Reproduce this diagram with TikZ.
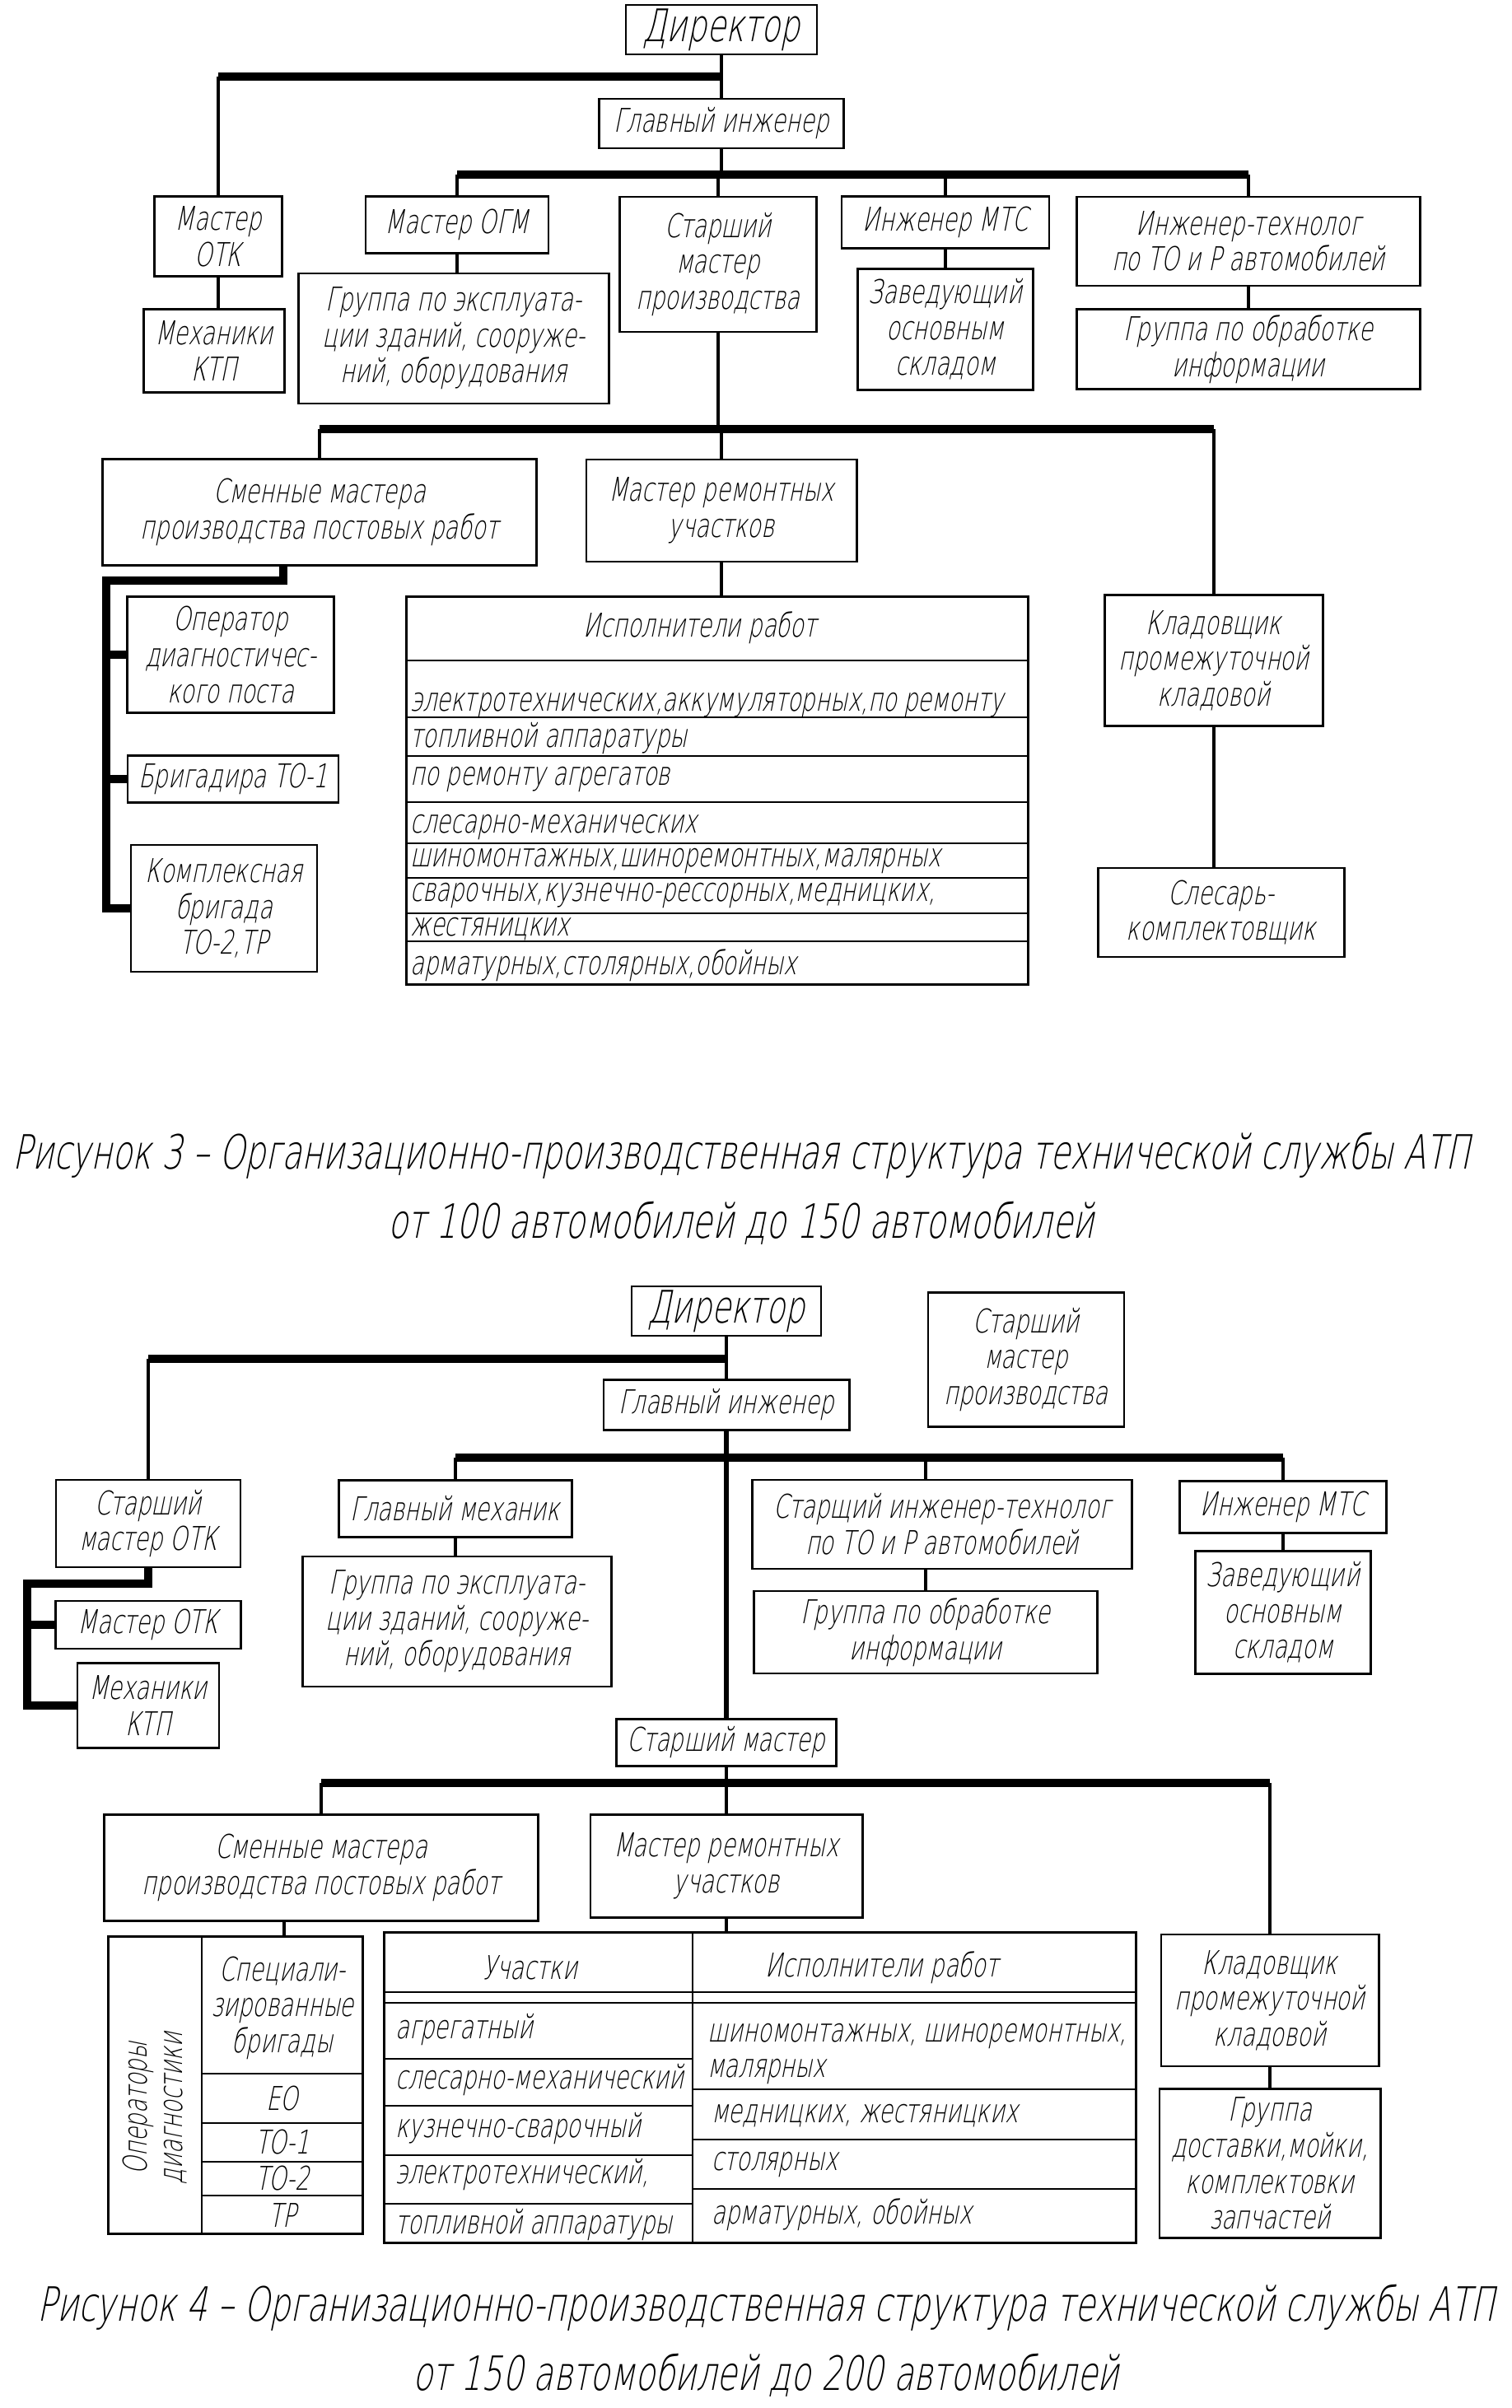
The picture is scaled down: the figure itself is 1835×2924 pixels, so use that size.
\documentclass[tikz,border=0pt]{standalone}
\usepackage{fontspec}
\newfontfamily\gost{DejaVu Sans ExtraLight}[FakeStretch=0.69,FakeSlant=0.2]
\newcommand\boxfont{\gost\fontsize{11.3}{12.4}\selectfont}
\newcommand\dirfont{\gost\fontsize{15.5}{17}\selectfont}
\newcommand\capfont{\gost\fontsize{16.3}{24}\selectfont}
\tikzset{
  box/.style={draw, line width=0.8pt, align=center, inner sep=1pt, font=\boxfont},
  cell/.style={inner sep=1pt, align=center, font=\boxfont},
  link/.style={line width=1pt},
  bus/.style={line width=2.6pt},
  grid/.style={line width=0.8pt},
}
\begin{document}
\begin{tikzpicture}[x=0.01cm, y=-0.01cm]
  \useasboundingbox (0,0) rectangle (1835,2924);
  % ==================== Рисунок 3 ====================
  \node[box, font=\dirfont, minimum width=23.2mm, minimum height=6mm] (dirA) at (876,36) {Директор};
  \node[box, minimum width=29.7mm, minimum height=6mm] (glA) at (876,150) {Главный инженер};
  \node[box, minimum width=15.5mm, minimum height=9.7mm] (otkA) at (265,287) {Мастер\\ОТК};
  \node[box, minimum width=17.1mm, minimum height=10.1mm] (ktpA) at (260,426) {Механики\\КТП};
  \node[box, minimum width=22.2mm, minimum height=6.9mm] (ogmA) at (555,273) {Мастер ОГМ};
  \node[box, minimum width=37.7mm, minimum height=15.8mm] (grexA) at (551,411) {Группа по эксплуата-\\ции зданий, сооруже-\\ний, оборудования};
  \node[box, minimum width=23.9mm, minimum height=16.4mm] (smpA) at (872,321) {Старший\\мастер\\производства};
  \node[box, minimum width=25.2mm, minimum height=6.3mm] (mtsA) at (1148,270) {Инженер МТС};
  \node[box, minimum width=21.3mm, minimum height=14.7mm] (zavA) at (1148,400) {Заведующий\\основным\\складом};
  \node[box, minimum width=41.7mm, minimum height=10.8mm] (itA) at (1516,293) {Инженер-технолог\\по ТО и Р автомобилей};
  \node[box, minimum width=41.7mm, minimum height=9.7mm] (goiA) at (1516,424) {Группа по обработке\\информации};
  % нижний ярус
  \node[box, minimum width=52.6mm, minimum height=12.9mm] (smA) at (388,622) {Сменные мастера\\производства постовых работ};
  \node[box, minimum width=32.8mm, minimum height=12.4mm] (mrA) at (876,620) {Мастер ремонтных\\участков};
  \node[box, minimum width=26.5mm, minimum height=15.9mm] (klA) at (1474,802) {Кладовщик\\промежуточной\\кладовой};
  \node[box, minimum width=29.9mm, minimum height=10.8mm] (slA) at (1483,1108) {Слесарь-\\комплектовщик};
  \node[box, minimum width=25.1mm, minimum height=14.1mm] (opA) at (280,795) {Оператор\\диагностичес-\\кого поста};
  \node[box, minimum width=25.6mm, minimum height=5.7mm] (brA) at (283,946) {Бригадира ТО-1};
  \node[box, minimum width=22.6mm, minimum height=15.4mm] (kbA) at (272,1103) {Комплексная\\бригада\\ТО-2,ТР};
  % таблица исполнителей
  \node[draw, line width=0.8pt, minimum width=75.5mm, minimum height=47mm] (ispA) at (871,960) {};
  \node[cell] (ispA-h) at (850,762) {Исполнители работ};
  \draw[grid] (494,802) -- (1249,802);
  \draw[grid] (494,871) -- (1249,871);
  \draw[grid] (494,918) -- (1249,918);
  \draw[grid] (494,974) -- (1249,974);
  \draw[grid] (494,1024) -- (1249,1024);
  \draw[grid] (494,1066) -- (1249,1066);
  \draw[grid] (494,1109) -- (1249,1109);
  \draw[grid] (494,1143) -- (1249,1143);
  \node[cell, anchor=west] (ispA-1) at (494,856) {электротехнических,аккумуляторных,по ремонту};
  \node[cell, anchor=west] (ispA-2) at (494,897) {топливной аппаратуры};
  \node[cell, anchor=west] (ispA-3) at (494,946) {по ремонту агрегатов};
  \node[cell, anchor=west] (ispA-4) at (494,1004) {слесарно-механических};
  \node[cell, anchor=west] (ispA-5) at (494,1045) {шиномонтажных,шиноремонтных,малярных};
  \node[cell, anchor=west] (ispA-6) at (494,1087) {сварочных,кузнечно-рессорных,медницких,};
  \node[cell, anchor=west] (ispA-7) at (494,1128) {жестяницких};
  \node[cell, anchor=west] (ispA-8) at (494,1172) {арматурных,столярных,обойных};
  % связи
  \coordinate (busA1) at (0,93);
  \coordinate (busA2) at (0,212);
  \coordinate (busA3) at (0,521);
  \coordinate (trA) at (129,705);
  \draw[link] (dirA.south) -- (glA.north);
  \draw[bus] (otkA.north |- busA1) -- (dirA.south |- busA1);
  \draw[link] (otkA.north |- busA1) -- (otkA.north);
  \draw[link] (otkA.south) -- (otkA.south |- ktpA.north);
  \draw[link] (glA.south) -- (glA.south |- busA2);
  \draw[bus] (ogmA.north |- busA2) -- (itA.north |- busA2);
  \draw[link] (ogmA.north |- busA2) -- (ogmA.north);
  \draw[link] (smpA.north |- busA2) -- (smpA.north);
  \draw[link] (mtsA.north |- busA2) -- (mtsA.north);
  \draw[link] (itA.north |- busA2) -- (itA.north);
  \draw[link] (ogmA.south) -- (ogmA.south |- grexA.north);
  \draw[link] (mtsA.south) -- (zavA.north);
  \draw[link] (itA.south) -- (goiA.north);
  \draw[link] (smpA.south) -- (smpA.south |- busA3);
  \draw[bus] (smA.north |- busA3) -- (klA.north |- busA3);
  \draw[link] (smA.north |- busA3) -- (smA.north);
  \draw[link] (mrA.north |- busA3) -- (mrA.north);
  \draw[link] (klA.north |- busA3) -- (klA.north);
  \draw[link] (mrA.south) -- (mrA.south |- ispA.north);
  \draw[link] (klA.south) -- (klA.south |- slA.north);
  \draw[bus] ([xshift=-4.4mm]smA.south) |- (trA) -- (trA |- kbA.west) -- (kbA.west);
  \draw[bus] (trA |- opA.west) -- (opA.west);
  \draw[bus] (trA |- brA.west) -- (brA.west);
  \node[font=\capfont, align=center] (capA) at (900,1443) {Рисунок 3 – Организационно-производственная структура технической службы АТП\\от 100 автомобилей до 150 автомобилей};

  % ==================== Рисунок 4 ====================
  \node[box, font=\dirfont, minimum width=23mm, minimum height=6mm] (dirB) at (882,1592) {Директор};
  \node[box, minimum width=23.8mm, minimum height=16.3mm] (smpB) at (1246,1651) {Старший\\мастер\\производства};
  \node[box, minimum width=29.8mm, minimum height=6.1mm] (glB) at (882,1706) {Главный инженер};
  \node[box, minimum width=22.4mm, minimum height=10.6mm] (otkB) at (180,1850) {Старший\\мастер ОТК};
  \node[box, minimum width=22.5mm, minimum height=5.8mm] (motkB) at (180,1973) {Мастер ОТК};
  \node[box, minimum width=17.2mm, minimum height=10.3mm] (mkB) at (180,2071) {Механики\\КТП};
  \node[box, minimum width=28.3mm, minimum height=6.9mm] (gmB) at (553,1832) {Главный механик};
  \node[box, minimum width=37.4mm, minimum height=15.8mm] (grexB) at (555,1969) {Группа по эксплуата-\\ции зданий, сооруже-\\ний, оборудования};
  \node[box, minimum width=46mm, minimum height=10.8mm] (sitB) at (1144,1851) {Старщий инженер-технолог\\по ТО и Р автомобилей};
  \node[box, minimum width=41.7mm, minimum height=10mm] (goiB) at (1124,1982) {Группа по обработке\\информации};
  \node[box, minimum width=25.1mm, minimum height=6.3mm] (mtsB) at (1558,1830) {Инженер МТС};
  \node[box, minimum width=21.3mm, minimum height=14.9mm] (zavB) at (1558,1958) {Заведующий\\основным\\складом};
  \node[box, minimum width=26.7mm, minimum height=5.7mm] (stmB) at (882,2116) {Старший мастер};
  % нижний ярус
  \node[box, minimum width=52.7mm, minimum height=12.9mm] (smB) at (390,2268) {Сменные мастера\\производства постовых работ};
  \node[box, minimum width=33mm, minimum height=12.5mm] (mrB) at (882,2266) {Мастер ремонтных\\участков};
  \node[box, minimum width=26.4mm, minimum height=16mm] (klB) at (1542,2429) {Кладовщик\\промежуточной\\кладовой};
  \node[box, minimum width=26.8mm, minimum height=18.1mm] (gdB) at (1542,2627) {Группа\\доставки,мойки,\\комплектовки\\запчастей};
  % таблица операторов
  \node[draw, line width=0.8pt, minimum width=30.9mm, minimum height=36.1mm] (dtB) at (286,2532) {};
  \draw[grid] (245,2352) -- (245,2713);
  \draw[grid] (245,2518) -- (441,2518);
  \draw[grid] (245,2578) -- (441,2578);
  \draw[grid] (245,2625) -- (441,2625);
  \draw[grid] (245,2666) -- (441,2666);
  \node[cell, rotate=90] (dtB-op) at (188,2560) {Операторы\\диагностики};
  \node[cell] (dtB-sp) at (343,2438) {Специали-\\зированные\\бригады};
  \node[cell] (dtB-eo) at (343,2548) {ЕО};
  \node[cell] (dtB-to1) at (343,2601) {ТО-1};
  \node[cell] (dtB-to2) at (343,2645) {ТО-2};
  \node[cell] (dtB-tr) at (343,2690) {ТР};
  % таблица участков
  \node[draw, line width=0.8pt, minimum width=91.3mm, minimum height=37.7mm] (ucB) at (923,2535) {};
  \draw[grid] (841,2347) -- (841,2724);
  \draw[grid] (467,2419) -- (1380,2419);
  \draw[grid] (467,2432) -- (1380,2432);
  \draw[grid] (467,2500) -- (841,2500);
  \draw[grid] (467,2557) -- (841,2557);
  \draw[grid] (467,2617) -- (841,2617);
  \draw[grid] (467,2676) -- (841,2676);
  \draw[grid] (841,2537) -- (1380,2537);
  \draw[grid] (841,2598) -- (1380,2598);
  \draw[grid] (841,2658) -- (1380,2658);
  \node[cell] (ucB-h1) at (644,2389) {Участки};
  \node[cell] (ucB-h2) at (1071,2389) {Исполнители работ};
  \node[cell, anchor=west] (ucB-l1) at (476,2465) {агрегатный};
  \node[cell, anchor=west] (ucB-l2) at (476,2526) {слесарно-механический};
  \node[cell, anchor=west] (ucB-l3) at (476,2585) {кузнечно-сварочный};
  \node[cell, anchor=west] (ucB-l4) at (476,2641) {электротехнический,};
  \node[cell, anchor=west] (ucB-l5) at (476,2702) {топливной аппаратуры};
  \node[cell, anchor=west, align=left] (ucB-r1) at (855,2494) {шиномонтажных, шиноремонтных,\\малярных};
  \node[cell, anchor=west] (ucB-r2) at (860,2569) {медницких, жестяницких};
  \node[cell, anchor=west] (ucB-r3) at (860,2628) {столярных};
  \node[cell, anchor=west] (ucB-r4) at (860,2689) {арматурных, обойных};
  % связи
  \coordinate (busB1) at (0,1650);
  \coordinate (busB2) at (0,1770);
  \coordinate (busB3) at (0,2165);
  \coordinate (trB) at (33,1923);
  \draw[link] (dirB.south) -- (glB.north);
  \draw[bus] (otkB.north |- busB1) -- (dirB.south |- busB1);
  \draw[link] (otkB.north |- busB1) -- (otkB.north);
  \draw[bus] (otkB.south) |- (trB) -- (trB |- mkB.west) -- (mkB.west);
  \draw[bus] (trB |- motkB.west) -- (motkB.west);
  \draw[link, line width=1.6pt] (glB.south) -- (stmB.north);
  \draw[bus] (gmB.north |- busB2) -- (mtsB.north |- busB2);
  \draw[link] (gmB.north |- busB2) -- (gmB.north);
  \draw[link] (goiB.north |- busB2) -- (goiB.north |- sitB.north);
  \draw[link] (mtsB.north |- busB2) -- (mtsB.north);
  \draw[link] (gmB.south) -- (gmB.south |- grexB.north);
  \draw[link] (goiB.north |- sitB.south) -- (goiB.north);
  \draw[link] (mtsB.south) -- (zavB.north);
  \draw[link] (stmB.south) -- (stmB.south |- busB3);
  \draw[bus] (smB.north |- busB3) -- (klB.north |- busB3);
  \draw[link] (smB.north |- busB3) -- (smB.north);
  \draw[link] (mrB.north |- busB3) -- (mrB.north);
  \draw[link] (klB.north |- busB3) -- (klB.north);
  \draw[link] ([xshift=-4.5mm]smB.south) -- ([xshift=-4.5mm]smB.south |- dtB.north);
  \draw[link] (mrB.south) -- (mrB.south |- ucB.north);
  \draw[link] (klB.south) -- (gdB.north);
  \node[font=\capfont, align=center] (capB) at (930,2842) {Рисунок 4 – Организационно-производственная структура технической службы АТП\\от 150 автомобилей до 200 автомобилей};
\end{tikzpicture}
\end{document}
